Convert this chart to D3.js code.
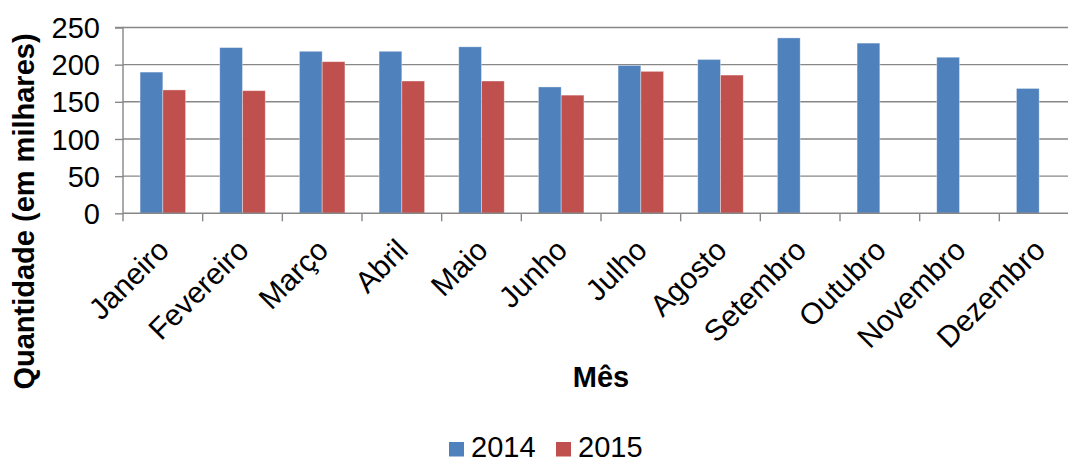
<!DOCTYPE html>
<html><head><meta charset="utf-8">
<script src="https://cdn.jsdelivr.net/npm/d3@7"></script>
<style>
html,body{margin:0;padding:0;background:#fff;overflow:hidden;}
svg{display:block;font-family:"Liberation Sans",Arial,sans-serif;}
</style></head>
<body><svg id="c" width="1068" height="462"></svg>
<script>
const months = ["Janeiro","Fevereiro","Março","Abril","Maio","Junho","Julho","Agosto","Setembro","Outubro","Novembro","Dezembro"];
const series = ["2014","2015"];
const values2014 = [190,223,218,218,224,170,199,207,236,229,210,168];
const values2015 = [166,165,204,178,178,159,191,186,null,null,null,null];
const yTicks = [0,50,100,150,200,250];
const colors = ["#4F81BD","#C0504D"];

const svg = d3.select("#c");
const pL = 123, pR = 1079, pT = 27.5, pB = 213.3;
const x = d3.scaleBand().domain(months).range([pL,pR]).paddingInner(0).paddingOuter(0);
const y = d3.scaleLinear().domain([0,250]).range([pB,pT]);
const bw = x.bandwidth()/3.5;
const gap = x.bandwidth()*0.75/3.5;

// gridlines
svg.append("g").selectAll("line").data(yTicks.filter(d=>d>0)).join("line")
  .attr("x1",pL).attr("x2",pR).attr("y1",d=>y(d)).attr("y2",d=>y(d))
  .attr("stroke","#878787").attr("stroke-width",1.4);

// bars
const data = [values2014, values2015];
data.forEach((vals,si)=>{
  svg.append("g").selectAll("rect").data(months.map((m,i)=>({m,v:vals[i]})).filter(d=>d.v!=null)).join("rect")
    .attr("x",d=>x(d.m)+gap+si*bw).attr("width",bw)
    .attr("y",d=>y(d.v)).attr("height",d=>y(0)-y(d.v))
    .attr("fill",colors[si]).attr("stroke","rgba(255,255,255,0.45)").attr("stroke-width",0.8);
});

// y axis
const yAxis = d3.axisLeft(y).tickValues(yTicks).tickSize(8).tickPadding(15);
const gy = svg.append("g").attr("transform",`translate(${pL},0)`).call(yAxis);
gy.select(".domain").attr("stroke","#878787").attr("stroke-width",1.4).attr("d",`M-8,${pT}H0V${pB}`);
gy.selectAll(".tick line").attr("stroke","#878787").attr("stroke-width",1.4);
gy.selectAll(".tick text").attr("font-size",29).attr("fill","#000").attr("font-family","Liberation Sans, Arial, sans-serif").attr("dy","0.35em");

// x axis
const xAxis = d3.axisBottom(x).tickSize(0).tickFormat("");
const gx = svg.append("g").attr("transform",`translate(0,${pB})`).call(xAxis);
gx.select(".domain").attr("stroke","#878787").attr("stroke-width",1.4).attr("d",`M${pL},0H${pR}`);
gx.selectAll(".tick").remove();
const bounds = months.map(m=>x(m)).concat([pR]);
gx.selectAll("line.tk").data(bounds).join("line").attr("class","tk")
  .attr("x1",d=>d).attr("x2",d=>d).attr("y1",0).attr("y2",8)
  .attr("stroke","#878787").attr("stroke-width",1.4);

// month labels
svg.append("g").selectAll("text").data(months).join("text")
  .attr("transform",d=>`translate(${x(d)+x.bandwidth()/2+8},252) rotate(-45)`)
  .attr("text-anchor","end").attr("font-size",30).attr("fill","#000").text(d=>d);

// axis titles
svg.append("text").attr("x",(pL+pR)/2).attr("y",386.5).attr("text-anchor","middle")
  .attr("font-size",29).attr("font-weight","bold").attr("fill","#000").text("Mês");
svg.append("text").attr("transform","translate(34,211.5) rotate(-90)").attr("text-anchor","middle")
  .attr("font-size",29).attr("font-weight","bold").attr("fill","#000").text("Quantidade (em milhares)");

// legend
const legX = [449,556];
series.forEach((s,i)=>{
  svg.append("rect").attr("x",legX[i]).attr("y",442).attr("width",15).attr("height",14.5).attr("fill",colors[i]);
  svg.append("text").attr("x",legX[i]+22).attr("y",457).attr("font-size",29).attr("fill","#000").text(s);
});
</script></body></html>
